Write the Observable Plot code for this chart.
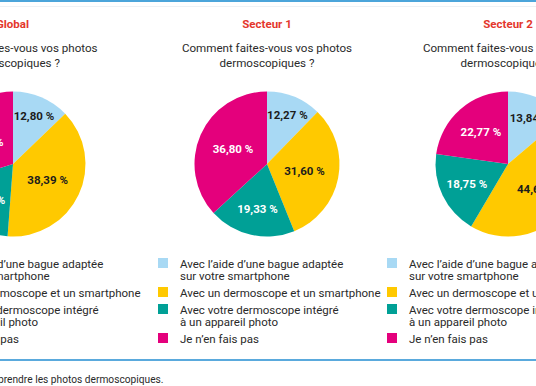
<!DOCTYPE html>
<html><head><meta charset="utf-8">
<script src="https://cdn.jsdelivr.net/npm/d3@7"></script>
<script src="https://cdn.jsdelivr.net/npm/@observablehq/plot@0.6"></script>
<style>
body{margin:0;background:#fff;font-family:Roboto,"Noto Sans",sans-serif;color:#2a2a2a}
#root{position:relative;width:536px;height:386px;overflow:hidden;background:#fff}
.abs{position:absolute}
.title{color:#e4372c;font-weight:bold;font-size:11.5px;line-height:14px;text-align:center;width:100%;top:16.5px}
.question{font-size:11.6px;line-height:15px;text-align:center;width:100%;top:41px;color:#2a2a2a}
.legend{font-size:11.5px;line-height:12.7px;white-space:nowrap;color:#2a2a2a}
.item{display:flex;align-items:flex-start;margin-bottom:4px}
.sw{width:10px;height:10px;margin-top:0px;margin-right:12px;flex:none}
.caption{font-size:10.2px;white-space:nowrap;color:#2a2a2a}
</style></head><body><div id="root"></div>
<script>
// ---- data ----
const panels = ["Global", "Secteur 1", "Secteur 2"];
const question = ["Comment faites-vous vos photos", "dermoscopiques ?"];
const categories = [
  "Avec l’aide d’une bague adaptée sur votre smartphone",
  "Avec un dermoscope et un smartphone",
  "Avec votre dermoscope intégré à un appareil photo",
  "Je n’en fais pas"
];
const legendLines = [
  ["Avec l’aide d’une bague adaptée", "sur votre smartphone"],
  ["Avec un dermoscope et un smartphone"],
  ["Avec votre dermoscope intégré", "à un appareil photo"],
  ["Je n’en fais pas"]
];
const globalValues = [12.80, 38.39, 19.02, 29.79];
const secteur1Values = [12.27, 31.60, 19.33, 36.80];
const secteur2Values = [13.84, 44.64, 18.75, 22.77];
const caption = "Figure 1 : Moyens utilisés pour prendre les photos dermoscopiques.";
const colors = ["#a8d9f4", "#ffc900", "#00a096", "#e4007c"];
const labelColors = ["#1c1c1c", "#1c1c1c", "#ffffff", "#ffffff"];

// ---- layout ----
const centers = [12.5, 267, 508];
const legendOffsets = [-72.5, -87, -99];
const PW = 240, PH = 150, R = 72.5;
const allValues = [globalValues, secteur1Values, secteur2Values];
const root = document.getElementById("root");

function el(tag, cls, style, parent) {
  const e = document.createElement(tag);
  if (cls) e.className = cls;
  if (style) Object.assign(e.style, style);
  (parent || root).appendChild(e);
  return e;
}
el("div", "abs", {left: "0", top: "0", width: "536px", height: "2px", background: "#4ba5da"});
el("div", "abs", {left: "0", top: "6px", width: "536px", height: "1px", background: "#eef2f5"});
el("div", "abs", {left: "0", top: "359px", width: "536px", height: "1.5px", background: "#5aaadd"});
const cap = el("div", "abs caption", {right: (536 - 163.5) + "px", top: "373.5px"});
cap.textContent = caption;

function pieRender(data) {
  return (index, scales) => {
    const x = scales.x, y = scales.y;
    const r = x(1) - x(0);
    const g = d3.create("svg:g").attr("transform", `translate(${x(0)},${y(0)})`);
    const arc = d3.arc().innerRadius(0).outerRadius(r);
    g.selectAll("path").data(data).join("path")
      .attr("d", d => arc({startAngle: d.a0, endAngle: d.a1}))
      .attr("fill", d => d.color);
    return g.node();
  };
}

panels.forEach((name, i) => {
  const values = allValues[i];
  const total = d3.sum(values);
  let acc = 0;
  const data = values.map((v, j) => {
    const a0 = acc / total * 2 * Math.PI; acc += v;
    const a1 = acc / total * 2 * Math.PI;
    const frac = v / total;
    const k = Math.max(0.52, Math.min(0.78, 0.9 - 1.4 * frac));
    const mid = (a0 + a1) / 2;
    return {category: categories[j], value: v, a0, a1, color: colors[j], labelColor: labelColors[j],
      lx: k * Math.sin(mid), ly: k * Math.cos(mid)};
  });
  const panel = el("div", "abs", {left: (centers[i] - PW / 2) + "px", top: "0", width: PW + "px", height: "360px"});
  const t = el("div", "abs title", null, panel); t.textContent = name;
  const q = el("div", "abs question", null, panel); q.innerHTML = question.join("<br>");
  const pieBox = el("div", "abs", {left: "0", top: (164 - PH / 2) + "px"}, panel);
  const chart = Plot.plot({
    width: PW, height: PH, margin: 0,
    x: {domain: [-PW / 2 / R, PW / 2 / R], axis: null},
    y: {domain: [-PH / 2 / R, PH / 2 / R], axis: null},
    color: {type: "identity"},
    style: {background: "transparent", overflow: "visible"},
    marks: [
      pieRender(data),
      Plot.text(data, {x: "lx", y: "ly", text: d => d.value.toFixed(2).replace(".", ",") + " %",
        fill: "labelColor", fontWeight: "bold", fontSize: 11.5, fontFamily: "Roboto"})
    ]
  });
  pieBox.appendChild(chart);
  const leg = el("div", "abs legend", {left: (PW / 2 + legendOffsets[i] - 22) + "px", top: "257.5px"}, panel);
  legendLines.forEach((lines, j) => {
    const it = el("div", "item", null, leg);
    el("div", "sw", {background: colors[j]}, it);
    const tx = el("div", null, null, it);
    tx.innerHTML = lines.join("<br>");
  });
});
</script></body></html>
